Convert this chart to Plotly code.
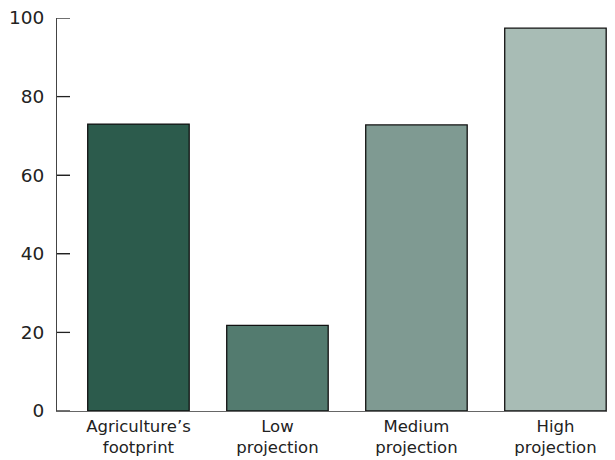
import plotly.graph_objects as go

categories = ["Agriculture’s<br>footprint", "Low<br>projection", "Medium<br>projection", "High<br>projection"]
values = [73.0, 21.8, 72.8, 97.4]
colors = ["#2c5b4c", "#537b6f", "#7f9a92", "#a8bcb5"]
y_ticks = [0, 20, 40, 60, 80, 100]

fig = go.Figure()
fig.add_trace(go.Bar(
    x=list(range(len(categories))),
    y=values,
    width=0.73,
    marker=dict(color=colors, line=dict(color="#111111", width=1.3)),
    hoverinfo="skip",
))
# invisible companion trace so the label axis (y2) is drawn
fig.add_trace(go.Scatter(
    x=list(range(len(categories))), y=values, yaxis="y2",
    mode="none", hoverinfo="skip", showlegend=False,
))

plot_w = 556  # plot area width in px
tick_shapes = [
    dict(type="line", xref="paper", yref="y", x0=0, x1=13 / plot_w, y0=v, y1=v,
         line=dict(color="#222222", width=1.3))
    for v in y_ticks
]
tick_shapes.append(dict(type="line", xref="paper", yref="y", x0=0.999, x1=0.999, y0=0, y1=2.6,
                        line=dict(color="#222222", width=1.5)))

# page body has an 8px margin, so the figure is offset by 8px
fig.update_layout(
    width=607, height=452,
    margin=dict(l=49, r=2, t=10, b=49),
    plot_bgcolor="white", paper_bgcolor="white",
    showlegend=False,
    font=dict(family="DejaVu Sans", color="#222222"),
    xaxis=dict(
        range=[-0.586, 3.414],
        tickvals=list(range(len(categories))),
        ticktext=categories,
        ticks="",
        showline=True, linecolor="#666666", linewidth=1.3,
        showgrid=False, zeroline=False,
        tickfont=dict(size=16.5, color="#222222"),
        automargin=False,
    ),
    yaxis=dict(
        range=[0, 100],
        tickvals=y_ticks,
        ticks="inside", ticklen=13, tickcolor="#222222", tickwidth=1.3,
        showticklabels=False,
        showline=True, linecolor="#444444", linewidth=1.3,
        showgrid=False, zeroline=False,
        automargin=False,
    ),
    yaxis2=dict(
        overlaying="y", side="left",
        range=[0, 100],
        tickvals=y_ticks,
        ticks="outside", ticklen=8, tickcolor="rgba(0,0,0,0)",
        showline=False, showgrid=False, zeroline=False,
        tickfont=dict(size=18.5, color="#222222"),
        ticklabeloverflow="allow",
        automargin=False,
    ),
    shapes=tick_shapes,
)

fig.write_html("out.html")
